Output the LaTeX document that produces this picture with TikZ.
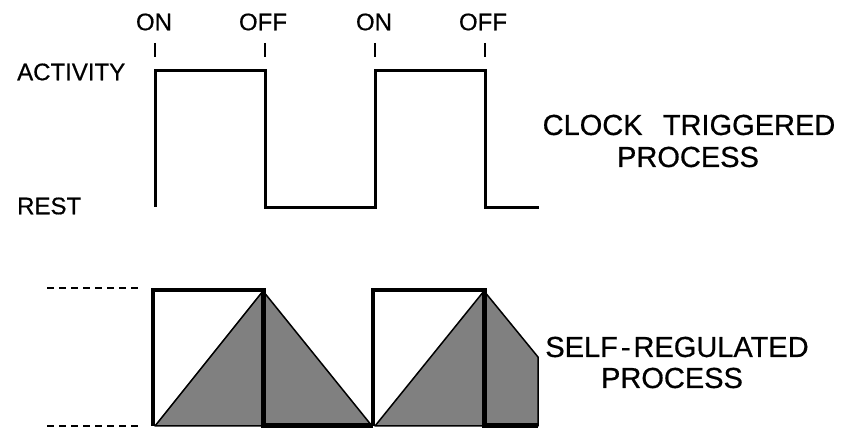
\documentclass[tikz,border=0pt]{standalone}
\usepackage{fontspec}
\setmainfont[FakeBold=0.6,AutoFakeBold=0.6]{Liberation Sans}
\begin{document}
\begin{tikzpicture}[x=1pt,y=-1pt,
  lbl/.style={inner sep=0pt,font=\fontsize{24}{26}\selectfont\bfseries},
  big/.style={inner sep=0pt,align=center,font=\fontsize{29}{32}\selectfont\bfseries},
  wave/.style={line width=3pt,line join=miter},
  tick/.style={line width=2.5pt},
  guide/.style={line width=2pt,dash pattern=on 7pt off 5pt},
  shade/.style={fill=black!50,draw=black,line width=1.5pt,line join=round},
  bar/.style={line width=5pt}]
\useasboundingbox (0,0) rectangle (844,430);

% ---- clock triggered process ----
\node[lbl] (on1)  at (154,22) {ON};
\node[lbl] (off1) at (263,22) {OFF};
\node[lbl] (on2)  at (374,22) {ON};
\node[lbl] (off2) at (483,22) {OFF};
\node[lbl,anchor=west] (act)  at (17,72) {ACTIVITY};
\node[lbl,anchor=west] (rest) at (17,206) {REST};

\coordinate (t1) at (155,43); \coordinate (t1b) at (155,57);
\coordinate (t2) at (265,43); \coordinate (t2b) at (265,57);
\coordinate (t3) at (375,43); \coordinate (t3b) at (375,57);
\coordinate (t4) at (485,43); \coordinate (t4b) at (485,57);
\foreach \i in {1,2,3,4} \draw[tick] (t\i) -- (t\i b);

\draw[wave] (155,207) -- (155,71) -- (265,71) -- (265,208) -- (375,208)
  -- (375,71) -- (485,71) -- (485,208) -- (539,208);

\node[big] (clk) at (689,125) {CLOCK\hspace{0.7em}TRIGGERED};
\node[big] (clkp) at (688,157) {PROCESS};

% ---- self-regulated process ----
\draw[guide] (47,288) -- (138,288);
\draw[guide] (47,426) -- (138,426);

\draw[shade] (155,426) -- (263,291) -- (372,426) -- cycle;
\draw[shade] (375,426) -- (484,291) -- (538,357) -- (538,426) -- cycle;

\draw[wave,line width=3.5pt] (153,426) -- (153,290) -- (263,290);
\draw[wave,line width=3.5pt] (373,426) -- (373,290) -- (484,290);
\draw[bar] (263,288.5) -- (263,426) -- (373,426);
\draw[bar] (484,288.5) -- (484,426) -- (538,426);

\node[big] (self) at (677,347) {SELF\kern3pt-\kern3pt REGULATED};
\node[big] (selfp) at (672,378) {PROCESS};
\end{tikzpicture}
\end{document}
